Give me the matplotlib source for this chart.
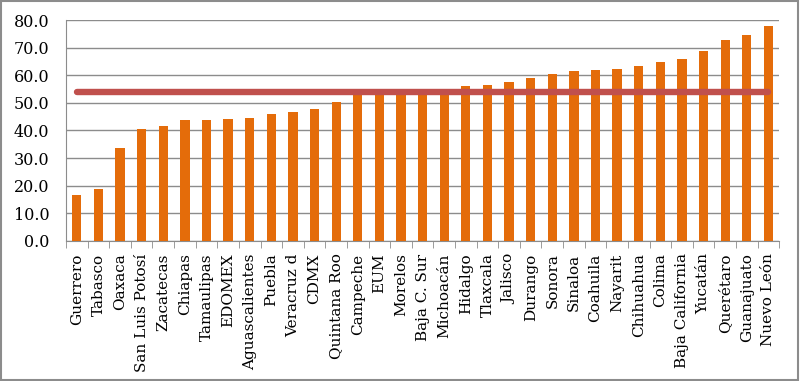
import matplotlib.pyplot as plt
from matplotlib.patches import Rectangle

estados = ["Guerrero", "Tabasco", "Oaxaca", "San Luis Potosí", "Zacatecas", "Chiapas",
           "Tamaulipas", "EDOMEX", "Aguascalientes", "Puebla", "Veracruz d", "CDMX",
           "Quintana Roo", "Campeche", "EUM", "Morelos", "Baja C. Sur", "Michoacán",
           "Hidalgo", "Tlaxcala", "Jalisco", "Durango", "Sonora", "Sinaloa", "Coahuila",
           "Nayarit", "Chihuahua", "Colima", "Baja California", "Yucatán", "Querétaro",
           "Guanajuato", "Nuevo León"]

valores = [16.6, 18.8, 33.8, 40.5, 41.8, 43.7, 43.8, 44.2, 44.4, 45.9, 46.7, 47.8,
           50.4, 53.0, 53.9, 53.6, 53.7, 53.8, 56.0, 56.5, 57.4, 59.1, 60.5, 61.7, 62.0,
           62.3, 63.4, 64.7, 65.9, 68.8, 72.8, 74.4, 78.0]

promedio = 53.9

fig = plt.figure(figsize=(8, 3.81), dpi=100)
ax = fig.add_axes([0.0825, 0.3675, 0.8915, 0.58])

x = list(range(len(estados)))
ax.bar(x, valores, width=0.43, color="#E46C0A", zorder=3)
ax.plot([x[0], x[-1]], [promedio, promedio], color="#C0504D", linewidth=4.6,
        solid_capstyle="round", zorder=4)

ax.set_ylim(0, 80)
ax.set_xlim(-0.5, len(estados) - 0.5)
ax.set_yticks(range(0, 81, 10))
ax.set_yticklabels([f"{v:.1f}" for v in range(0, 81, 10)], fontsize=11.5,
                   family="DejaVu Serif")
ax.yaxis.grid(True, color="#8c8c8c", linewidth=1, zorder=0)
ax.tick_params(axis="y", length=0, pad=12)

ax.set_xticks(x)
ax.set_xticklabels(estados, rotation=90, fontsize=11, family="DejaVu Serif")
ax.set_xticks([i - 0.5 for i in range(len(estados) + 1)], minor=True)
ax.tick_params(axis="x", which="major", length=0, pad=9)
ax.tick_params(axis="x", which="minor", length=5, color="#8c8c8c")

for s in ["top", "right"]:
    ax.spines[s].set_visible(False)
for s in ["left", "bottom"]:
    ax.spines[s].set_color("#8c8c8c")

fig.patches.append(Rectangle((0.001, 0.002), 0.997, 0.995, transform=fig.transFigure,
                             fill=False, edgecolor="#8c8c8c", linewidth=1.5))

fig.savefig("out.png", dpi=100)
